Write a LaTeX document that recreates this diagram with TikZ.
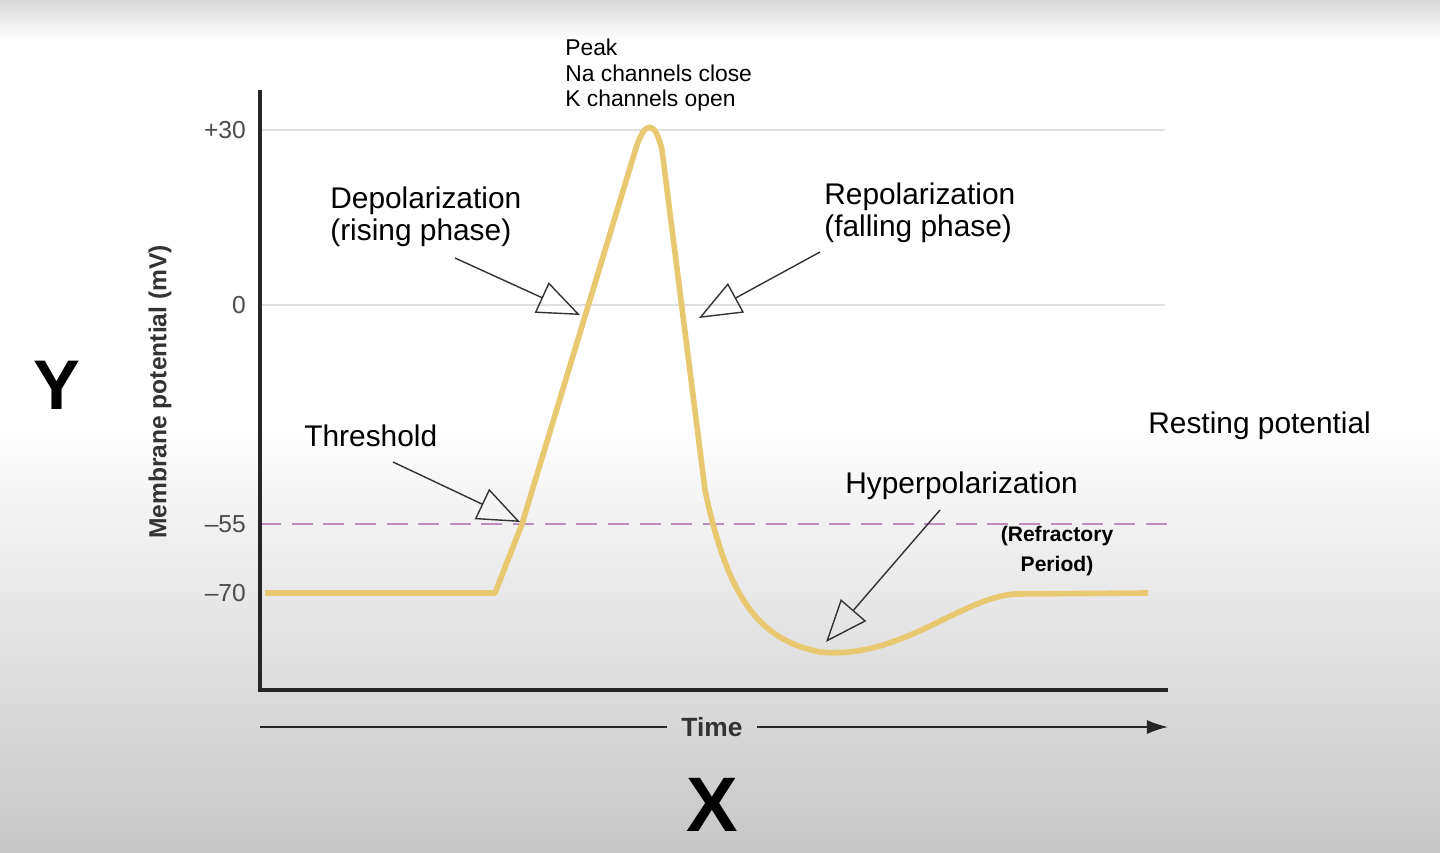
\documentclass[tikz,border=0pt]{standalone}
\usepackage{fontspec}
\setmainfont{Liberation Sans}
\usetikzlibrary{arrows.meta}
\definecolor{curvey}{RGB}{232,200,112}
\definecolor{thresh}{RGB}{190,140,190}
\tikzset{
  lbl/.style={font=\fontsize{15}{16}\selectfont, align=left, inner sep=0pt},
  tick/.style={font=\fontsize{14}{15}\selectfont, text=black!70, anchor=east},
  pointer/.style={black!80, line width=0.8pt, -{Triangle[open, length=24pt, width=19pt]}},
  grid line/.style={black!12, line width=0.8pt}
}
\begin{document}
\begin{tikzpicture}[x=0.02cm, y=-0.02cm]
    \useasboundingbox (0,0) rectangle (1440,852);
    %Background
    \shade[top color=black!15, bottom color=white] (0,0) rectangle (1440,40);
    \fill[white] (0,40) rectangle (1440,420);
    \shade[top color=white, bottom color=black!22] (0,420) rectangle (1440,852);
    %Grid lines
    \draw[grid line] (260,130) -- (1165,130);
    \draw[grid line] (260,305) -- (1165,305);
    \draw[thresh, dashed, dash pattern=on 12pt off 6pt, line width=1.2pt] (260,524) -- (1168,524);
    %Axes
    \draw[black!85, line width=1.8pt] (260,90) -- (260,690) -- (1168,690);
    \node[tick] (t30) at (252,130) {+30};
    \node[tick] (t0) at (252,305) {0};
    \node[tick] (t55) at (252,524) {--55};
    \node[tick] (t70) at (252,593) {--70};
    \node[rotate=90, font=\bfseries\fontsize{14}{15}\selectfont, text=black!80] (ylab) at (160,392) {Membrane potential (mV)};
    \node[font=\bfseries\fontsize{40}{42}\selectfont] (Y) at (57,385) {Y};
    \node[font=\bfseries\fontsize{44}{46}\selectfont] (X) at (712,805) {X};
    \node[font=\bfseries\fontsize{15}{16}\selectfont, text=black!80, inner xsep=8pt] (time) at (712,727) {Time};
    \draw[black!85, line width=1pt] (260,727) -- (time.west);
    \draw[black!85, line width=1pt, -{Latex[length=12pt, width=8pt]}] (time.east) -- (1168,727);
    %Action potential
    \draw[curvey, line width=3.2pt, line join=round] (265,593) -- (495,593) -- (522,524)
      -- (636,148) .. controls (645,120) and (655,120) .. (662,150)
      -- (705,490) .. controls (728,600) and (760,640) .. (820,652)
      .. controls (900,660) and (960,598) .. (1015,594) -- (1148,593);
    %Labels
    \node[lbl, font=\fontsize{13}{14.5}\selectfont, anchor=south west] (peak) at (565,112) {Peak\\Na channels close\\K channels open};
    \node[lbl, font=\fontsize{17}{18}\selectfont, anchor=west] (depol) at (330,217) {Depolarization\\(rising phase)};
    \node[lbl, font=\fontsize{17}{18}\selectfont, anchor=west] (repol) at (824,213) {Repolarization\\(falling phase)};
    \node[lbl, font=\fontsize{17}{18}\selectfont, anchor=west] (thr) at (304,436) {Threshold};
    \node[lbl, font=\fontsize{17}{18}\selectfont, anchor=west] (hyper) at (845,486) {Hyperpolarization};
    \node[lbl, font=\bfseries\fontsize{12}{17}\selectfont, align=center] (refr) at (1057,551) {(Refractory\\Period)};
    \node[lbl, font=\fontsize{17}{18}\selectfont, anchor=west] (rest) at (1148,426) {Resting potential};
    %Pointers
    \draw[pointer] (455,258) -- (580,315);
    \draw[pointer] (820,252) -- (699,318);
    \draw[pointer] (393,462) -- (520,522);
    \draw[pointer] (940,510) -- (826,642);
\end{tikzpicture}
\end{document}
